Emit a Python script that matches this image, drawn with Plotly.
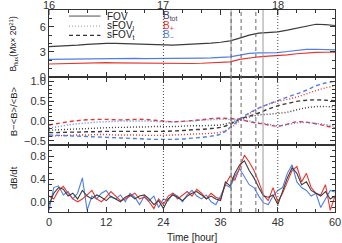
import plotly.graph_objects as go

# zeit in stunden
t2 = list(range(0, 61, 2))
t1 = list(range(0, 61))

# oberes panel: B_flux (10^21 Mx)
flux_tot = [3.64, 3.68, 3.74, 3.8, 3.9, 4.0, 4.02, 4.03, 4.0, 3.95, 3.9, 3.86, 3.82, 3.82, 3.86, 3.9,
            3.95, 4.05, 4.15, 4.32, 4.65, 5.0, 5.25, 5.3, 5.4, 5.6, 5.85, 6.1, 6.3, 6.25, 6.15]
flux_neg = [2.12, 2.14, 2.16, 2.18, 2.2, 2.22, 2.24, 2.24, 2.24, 2.22, 2.2, 2.2, 2.2, 2.18, 2.2, 2.22,
            2.25, 2.28, 2.32, 2.42, 2.62, 2.82, 2.88, 2.9, 2.92, 3.05, 3.2, 3.3, 3.32, 3.3, 3.24]
flux_pos = [1.56, 1.6, 1.64, 1.68, 1.7, 1.72, 1.72, 1.7, 1.68, 1.66, 1.65, 1.64, 1.62, 1.6, 1.6, 1.62,
            1.65, 1.7, 1.75, 1.82, 2.1, 2.3, 2.42, 2.5, 2.56, 2.65, 2.78, 2.9, 2.94, 2.96, 2.96]

# mittleres panel: (B-<B>)/<B>
tot_l = [-0.23, -0.22, -0.21, -0.2, -0.19, -0.18, -0.17, -0.16, -0.16, -0.15, -0.15, -0.14, -0.14, -0.14, -0.13, -0.12,
         -0.12, -0.11, -0.1, -0.04, 0.03, 0.1, 0.15, 0.17, 0.19, 0.22, 0.28, 0.33, 0.36, 0.36, 0.35]
tot_t = [-0.29, -0.29, -0.28, -0.28, -0.27, -0.27, -0.26, -0.26, -0.26, -0.26, -0.26, -0.26, -0.26, -0.25, -0.24, -0.22,
         -0.21, -0.19, -0.16, -0.08, 0.05, 0.12, 0.2, 0.3, 0.38, 0.44, 0.49, 0.52, 0.53, 0.52, 0.51]
pos_l = [-0.38, -0.37, -0.36, -0.35, -0.35, -0.34, -0.34, -0.35, -0.35, -0.35, -0.36, -0.36, -0.36, -0.35, -0.34, -0.33,
         -0.32, -0.31, -0.28, -0.18, 0.0, 0.18, 0.32, 0.42, 0.49, 0.54, 0.6, 0.68, 0.76, 0.83, 0.88]
pos_t = [-0.1, -0.06, -0.02, 0.01, 0.03, 0.04, 0.04, 0.03, 0.03, 0.04, 0.04, 0.02, 0.0, -0.02, -0.01, 0.01,
         0.03, 0.06, 0.07, 0.06, 0.04, -0.02, -0.06, -0.1, -0.13, -0.08, -0.02, -0.03, -0.07, -0.12, -0.18]
neg_l = [-0.18, -0.14, -0.1, -0.07, -0.05, -0.03, -0.02, -0.01, 0.0, 0.0, 0.0, -0.01, -0.02, -0.02, -0.01, 0.0,
         0.02, 0.03, 0.04, 0.04, 0.03, 0.0, -0.04, -0.08, -0.12, -0.09, -0.05, -0.04, -0.06, -0.09, -0.13]
neg_t = [-0.35, -0.36, -0.37, -0.38, -0.39, -0.4, -0.41, -0.42, -0.43, -0.44, -0.45, -0.46, -0.46, -0.46, -0.45, -0.43,
         -0.41, -0.38, -0.33, -0.16, 0.04, 0.2, 0.32, 0.42, 0.51, 0.6, 0.68, 0.77, 0.88, 0.95, 0.99]

# unteres panel: dB/dt
dtot = [-0.05, 0.15, 0.25, 0.22, 0.1, 0.15, 0.05, 0.2, 0.1, 0.05, 0.12, 0.08, 0.02, 0.1, 0.05, 0.0,
        0.08, 0.12, 0.05, 0.1, 0.12, 0.05, -0.05, 0.02, -0.12, 0.05, 0.12, 0.08, 0.02, 0.1, 0.15, 0.18,
        0.12, 0.05, 0.1, 0.05, 0.02, 0.35, 0.28, 0.5, 0.65, 0.72, 0.55, 0.42, 0.25, 0.1, 0.08, 0.12,
        -0.05, 0.2, 0.42, 0.6, 0.5, 0.3, 0.35, 0.2, 0.15, 0.1, 0.18, 0.05, 0.1]
dpos = [0.1, 0.05, 0.2, 0.27, 0.15, 0.05, 0.0, 0.05, 0.12, 0.2, 0.05, 0.0, 0.08, 0.18, 0.1, 0.02,
        0.05, 0.1, 0.15, 0.05, 0.08, 0.0, -0.12, 0.05, -0.05, 0.1, 0.15, 0.05, 0.12, 0.18, 0.1, 0.22,
        0.15, 0.05, 0.15, 0.08, 0.05, 0.3, 0.45, 0.38, 0.6, 0.82, 0.7, 0.55, 0.35, 0.12, 0.02, 0.25,
        0.0, 0.15, 0.35, 0.55, 0.62, 0.35, 0.5, 0.25, 0.15, 0.12, 0.3, -0.15, 0.1]
dneg = [-0.15, 0.25, 0.28, 0.12, 0.18, 0.05, 0.15, 0.42, -0.15, 0.1, 0.05, 0.15, 0.2, 0.08, 0.05, 0.12,
        0.0, 0.15, 0.08, -0.05, 0.1, 0.02, 0.1, -0.1, 0.05, 0.02, 0.15, 0.1, 0.0, 0.12, 0.2, 0.1,
        0.05, 0.12, 0.0, -0.05, 0.1, 0.3, 0.25, 0.45, 0.58, 0.45, 0.3, 0.25, 0.1, -0.02, -0.05, 0.1,
        0.2, 0.25, 0.5, 0.65, 0.35, 0.25, 0.2, 0.1, 0.15, -0.1, 0.05, 0.2, 0.17]

# markierte zeitpunkte
solid_lines = [38.2, 44.9]
dashed_lines = [38.2, 40.3, 43.4]
dotted_lines = [24, 48]
day_ticks = [0, 24, 48]
day_labels = ["16", "17", "18"]

BLACK = "#3c3c3c"
RED = "#e8352f"
BLUE = "#4f7fe6"
FONT = "Liberation Sans"

fig = go.Figure()

# panel 1
fig.add_trace(go.Scatter(x=t2, y=flux_tot, mode="lines", line=dict(color=BLACK, width=1.2), xaxis="x3", yaxis="y3"))
fig.add_trace(go.Scatter(x=t2, y=flux_neg, mode="lines", line=dict(color=BLUE, width=1.2), xaxis="x3", yaxis="y3"))
fig.add_trace(go.Scatter(x=t2, y=flux_pos, mode="lines", line=dict(color=RED, width=1.2), xaxis="x3", yaxis="y3"))

# panel 2
for vals, col, dash in [(tot_l, BLACK, "1px,2px"), (tot_t, BLACK, "4px,3px"),
                        (pos_l, RED, "1px,2px"), (pos_t, RED, "4px,3px"),
                        (neg_l, BLUE, "1px,2px"), (neg_t, BLUE, "4px,3px")]:
    fig.add_trace(go.Scatter(x=t2, y=vals, mode="lines", line=dict(color=col, width=1.4, dash=dash, shape="spline"),
                             xaxis="x2", yaxis="y2"))

# panel 3
fig.add_trace(go.Scatter(x=t1, y=dneg, mode="lines", line=dict(color=BLUE, width=1.1), xaxis="x", yaxis="y"))
fig.add_trace(go.Scatter(x=t1, y=dpos, mode="lines", line=dict(color=RED, width=1.1), xaxis="x", yaxis="y"))
fig.add_trace(go.Scatter(x=t1, y=dtot, mode="lines", line=dict(color=BLACK, width=1.1), xaxis="x", yaxis="y"))

# vertikale linien ueber alle panels
for v in solid_lines:
    fig.add_shape(type="line", xref="x", yref="paper", x0=v, x1=v, y0=0, y1=1,
                  line=dict(color="#999999", width=1))
for v in dashed_lines:
    fig.add_shape(type="line", xref="x", yref="paper", x0=v, x1=v, y0=0, y1=1,
                  line=dict(color="#666666", width=1, dash="4px,3px"))
for v in dotted_lines:
    fig.add_shape(type="line", xref="x", yref="paper", x0=v, x1=v, y0=0, y1=1,
                  line=dict(color="#444444", width=1, dash="1px,2px"))

# tage oben (obere achse)
for v, lab in zip(day_ticks, day_labels):
    fig.add_shape(type="line", xref="x", yref="paper", x0=v, x1=v, y0=1, y1=0.975,
                  line=dict(color="#333333", width=1))
    fig.add_annotation(xref="x", yref="paper", x=v, y=1, text=lab, showarrow=False, yanchor="bottom",
                       yshift=-3, font=dict(family=FONT, size=11, color="#333333"))

# legende
leg = [("solid", "#777777", "FOV", 0.97), ("1px,2px", "#aaaaaa", "sFOV<sub>l</sub>", 0.92),
       ("4px,3px", "#333333", "sFOV<sub>t</sub>", 0.874)]
for dash, col, txt, yy in leg:
    fig.add_shape(type="line", xref="paper", yref="paper", x0=0.07, x1=0.18, y0=yy, y1=yy,
                  line=dict(color=col, width=1.3, dash=dash))
    fig.add_annotation(xref="paper", yref="paper", x=0.195, y=yy, text=txt, showarrow=False,
                       xanchor="left", yanchor="middle", font=dict(family=FONT, size=10, color="#222222"))
for txt, col, yy in [("B<sub>tot</sub>", "#4a3b5c", 0.97), ("B<sub>+</sub>", RED, 0.92), ("B<sub>−</sub>", BLUE, 0.874)]:
    fig.add_annotation(xref="paper", yref="paper", x=0.39, y=yy, text=txt, showarrow=False,
                       xanchor="left", yanchor="middle", font=dict(family=FONT, size=10, color=col))

# y-achsentitel
for txt, yy, sz in [("B<sub>flux</sub>(Mx× 20<sup>21</sup>)", 0.83, 8.5), ("B−&lt;B&gt;/&lt;B&gt;", 0.5, 9.5), ("dB/dt", 0.17, 9.5)]:
    fig.add_annotation(xref="paper", yref="paper", x=-0.125, y=yy, text=txt, showarrow=False, textangle=-90,
                       xanchor="center", yanchor="middle", font=dict(family=FONT, size=sz, color="#222222"))

# x-achsentitel
fig.add_annotation(xref="paper", yref="paper", x=0.5, y=-0.09, text="Time [hour]", showarrow=False,
                   xanchor="center", yanchor="top", font=dict(family=FONT, size=10, color="#222222"))

ax_common = dict(showline=True, linecolor="#333333", linewidth=1, mirror="ticks", ticks="inside",
                 ticklen=5, tickcolor="#333333", showgrid=False, zeroline=False, automargin=False,
                 tickfont=dict(family=FONT, size=11, color="#333333"))
xminor = dict(dtick=4, ticks="inside", ticklen=3, tickcolor="#333333")
xcommon = dict(ax_common, range=[0, 60], tickvals=[0, 12, 24, 36, 48, 60], minor=xminor)

fig.update_layout(
    width=342, height=243,
    margin=dict(l=49, r=7, t=10, b=31),
    paper_bgcolor="white", plot_bgcolor="white",
    showlegend=False,
    font=dict(family=FONT, size=11, color="#333333"),
    xaxis=dict(xcommon, domain=[0, 1], anchor="y"),
    xaxis2=dict(xcommon, matches="x", anchor="y2", showticklabels=False),
    xaxis3=dict(xcommon, matches="x", anchor="y3", showticklabels=False),
    yaxis=dict(ax_common, domain=[0, 0.332], range=[-0.18, 1.0], tickvals=[0.0, 0.4, 0.8], tickformat=".1f",
               minor=dict(dtick=0.1, ticks="inside", ticklen=3, tickcolor="#333333")),
    yaxis2=dict(ax_common, domain=[0.332, 0.668], range=[-0.6, 1.1], tickvals=[-0.5, 0.0, 0.5, 1.0], tickformat=".1f",
                minor=dict(dtick=0.1, ticks="inside", ticklen=3, tickcolor="#333333")),
    yaxis3=dict(ax_common, domain=[0.668, 1], range=[0, 8], tickvals=[0, 3, 6],
                minor=dict(dtick=1, ticks="inside", ticklen=3, tickcolor="#333333")),
)

# body-rand der seite entfernen, damit die figur genau ins fenster passt
fig.write_html("out.html", config={"displayModeBar": False},
               post_script="document.body.style.margin='0';")
